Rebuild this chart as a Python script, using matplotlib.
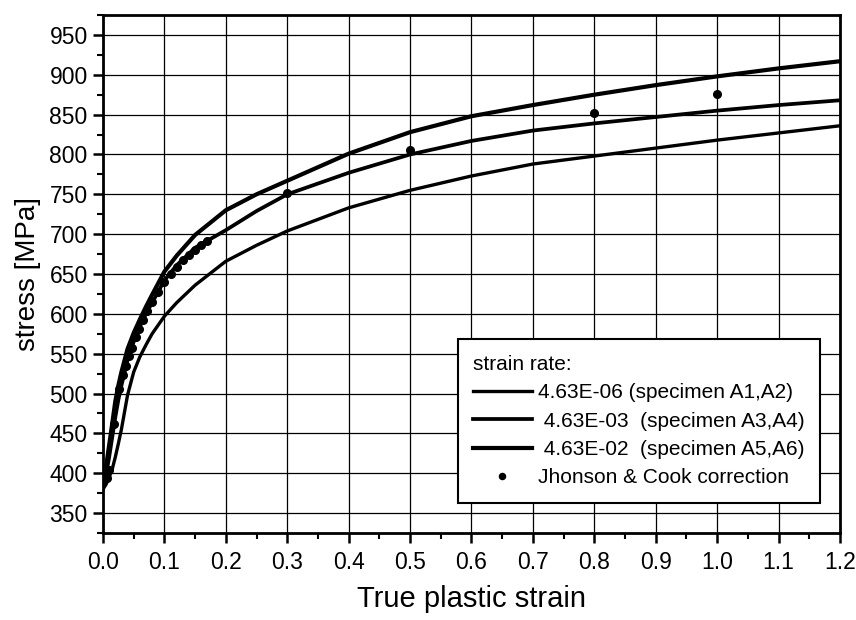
import matplotlib
matplotlib.use("Agg")
import matplotlib.pyplot as plt
from matplotlib.ticker import MultipleLocator

plt.rcParams['font.family'] = ['Liberation Sans', 'DejaVu Sans']

# strain values where the curves were read
strain = [0.0, 0.005, 0.01, 0.015, 0.02, 0.025, 0.03, 0.04, 0.05, 0.06, 0.07, 0.08,
          0.1, 0.12, 0.15, 0.2, 0.25, 0.3, 0.4, 0.5, 0.6, 0.7, 0.8, 0.9, 1.0, 1.1, 1.2]

stress_e06 = [380, 386, 395, 405, 420, 437, 455, 498, 527, 546, 561, 575,
              597, 614, 636, 666, 686, 704, 733, 755, 773, 788, 798, 808, 818, 827, 836]
stress_e03 = [386, 398, 420, 445, 470, 492, 510, 542, 565, 584, 600, 614,
              642, 661, 683, 705, 729, 750, 777, 800, 817, 830, 839, 847, 855, 862, 868]
stress_e02 = [392, 408, 435, 462, 490, 510, 527, 556, 576, 593, 609, 624,
              653, 673, 699, 730, 750, 767, 801, 828, 848, 862, 875, 887, 898, 908, 917]

jc_strain = [0.006, 0.009, 0.018, 0.026, 0.033, 0.038, 0.042, 0.047, 0.053, 0.059,
             0.065, 0.072, 0.08, 0.09, 0.1, 0.11, 0.12, 0.13, 0.14, 0.15, 0.16, 0.17,
             0.3, 0.5, 0.8, 1.0]
jc_stress = [394, 404, 462, 506, 523, 535, 547, 557, 571, 581,
             592, 603, 615, 628, 640, 650, 659, 667, 674, 680, 686, 691,
             752, 805, 852, 876]

x_ticks = [0.0, 0.1, 0.2, 0.3, 0.4, 0.5, 0.6, 0.7, 0.8, 0.9, 1.0, 1.1, 1.2]
y_ticks = [350, 400, 450, 500, 550, 600, 650, 700, 750, 800, 850, 900, 950]

labels = ["4.63E-06 (specimen A1,A2)",
          " 4.63E-03  (specimen A3,A4)",
          " 4.63E-02  (specimen A5,A6)",
          "Jhonson & Cook correction"]

fig = plt.figure(figsize=(8.56, 6.2), dpi=100)
ax = fig.add_axes([0.1203, 0.1403, 0.8610, 0.8355])

ax.plot(strain, stress_e06, color='black', lw=2.4, label=labels[0], zorder=3)
ax.plot(strain, stress_e03, color='black', lw=2.7, label=labels[1], zorder=3)
ax.plot(strain, stress_e02, color='black', lw=3.0, label=labels[2], zorder=3)
ax.plot(jc_strain, jc_stress, 'o', color='black', ms=5.5, label=labels[3], zorder=4)

ax.set_xlim(0.0, 1.2)
ax.set_ylim(325, 975)
ax.set_xticks(x_ticks)
ax.set_xticklabels([f"{v:.1f}" for v in x_ticks])
ax.set_yticks(y_ticks)
ax.xaxis.set_minor_locator(MultipleLocator(0.05))
ax.yaxis.set_minor_locator(MultipleLocator(25))
ax.tick_params(axis='both', which='major', direction='out', length=7, width=1.8,
               labelsize=16.5, colors='black')
ax.tick_params(axis='both', which='minor', direction='out', length=4, width=1.5)
ax.tick_params(axis='x', pad=6)
ax.tick_params(axis='y', pad=4)

ax.grid(True, which='major', color='black', lw=0.9)
ax.set_axisbelow(True)
for s in ax.spines.values():
    s.set_linewidth(2.0)
    s.set_color('black')

ax.set_xlabel("True plastic strain", fontsize=21, labelpad=8)
ax.set_ylabel("stress [MPa]", fontsize=20, labelpad=6)

leg = ax.legend(loc='lower right', bbox_to_anchor=(0.973, 0.058), borderaxespad=0,
                title="strain rate:",
                fontsize=15, title_fontsize=15, alignment='left',
                frameon=True, fancybox=False, edgecolor='black', framealpha=1,
                handlelength=2.8, handletextpad=0.3, labelspacing=0.45,
                borderpad=0.75, markerscale=0.8)
leg.get_frame().set_linewidth(1.5)

fig.savefig("out.png", dpi=100)
